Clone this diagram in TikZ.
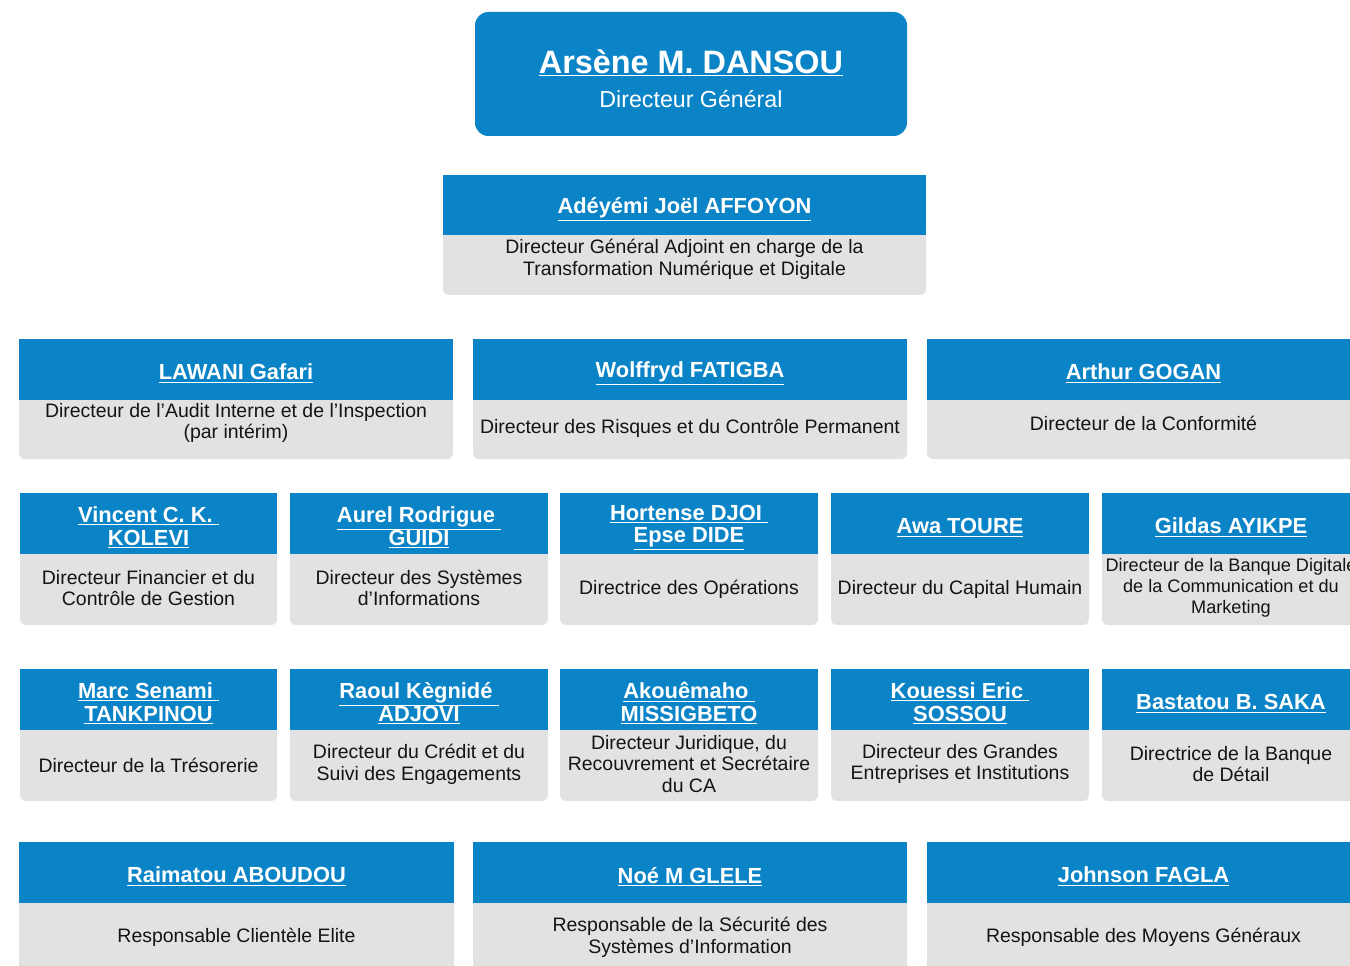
\documentclass[tikz,border=0pt]{standalone}
\usepackage{fontspec}
\setmainfont{Liberation Sans}
\definecolor{cardblue}{RGB}{10,132,198}
\definecolor{cardgray}{RGB}{226,226,226}
\definecolor{desctext}{RGB}{20,20,20}
\tikzset{
  nametext/.style={text=white, font=\bfseries\fontsize{16.4}{17}\selectfont, align=center, inner sep=0pt},
  roletext/.style={text=desctext, font=\fontsize{14.6}{16.3}\selectfont, align=center, inner sep=0pt},
  bluepart/.style={fill=cardblue},
  graypart/.style={fill=cardgray, rounded corners=4.5pt},
}
% id, xl, xr, ytop, ysplit, ybot, name, role, role y
\newcommand\orgcard[9]{%
  \fill[graypart] (#2,#5-10) rectangle (#3,#6);
  \fill[bluepart] (#2,#4) rectangle (#3,#5);
  \node[nametext] (#1-name) at ({(#2+#3)/2},{(#4+#5)/2+4}) {#7};
  \node[roletext] (#1-role) at ({(#2+#3)/2},#9) {#8};
}
\begin{document}
\begin{tikzpicture}[x=0.75pt,y=-0.75pt]
\clip (0,0) rectangle (1350,966);
\fill[white] (0,0) rectangle (1350,966);
% Director general
\fill[cardblue, rounded corners=10pt] (475,12) rectangle (907,136);
\node[text=white, font=\bfseries\fontsize{24.3}{28}\selectfont, inner sep=0pt] (dg-name) at (691,63) {\underline{Arsène M. DANSOU}};
\node[text=white, font=\fontsize{17.4}{20}\selectfont, inner sep=0pt] (dg-role) at (691,99) {Directeur Général};
% Deputy
\orgcard{dga}{443}{926}{175}{235}{295}{\underline{Adéyémi Joël AFFOYON}\rule[-3pt]{0pt}{1pt}}{Directeur Général Adjoint en charge de la\\Transformation Numérique et Digitale}{259}
% Row 3
\orgcard{lawani}{19}{453}{339}{400}{459}{\underline{LAWANI Gafari}}{Directeur de l’Audit Interne et de l’Inspection\\(par intérim)}{423}
\orgcard{fatigba}{473}{907}{339}{400}{459}{\underline{Wolffryd FATIGBA}}{Directeur des Risques et du Contrôle Permanent}{428}
\orgcard{gogan}{927}{1360}{339}{400}{459}{\underline{Arthur GOGAN}}{Directeur de la Conformité}{423}
% Row 4
\orgcard{kolevi}{20}{277}{493}{554}{625}{\underline{Vincent C. K.\ }\\\underline{KOLEVI}}{Directeur Financier et du\\Contrôle de Gestion}{588}
\orgcard{guidi}{290}{548}{493}{554}{625}{\underline{Aurel Rodrigue\ }\\\underline{GUIDI}}{Directeur des Systèmes\\d’Informations}{588}
\orgcard{dide}{560}{818}{493}{554}{625}{\underline{Hortense DJOI\ }\\\underline{Epse DIDE}}{Directrice des Opérations}{589}
\orgcard{toure}{831}{1089}{493}{554}{625}{\underline{Awa TOURE}}{Directeur du Capital Humain}{589}
\begin{scope}[roletext/.append style={font=\fontsize{13.6}{15.6}\selectfont}]
\orgcard{ayikpe}{1102}{1360}{493}{554}{625}{\underline{Gildas AYIKPE}}{Directeur de la Banque Digitale\\de la Communication et du\\Marketing}{588}
\end{scope}
% Row 5
\orgcard{tankpinou}{20}{277}{669}{730}{801}{\underline{Marc Senami\ }\\\underline{TANKPINOU}}{Directeur de la Trésorerie}{765}
\orgcard{adjovi}{290}{548}{669}{730}{801}{\underline{Raoul Kègnidé\ }\\\underline{ADJOVI}}{Directeur du Crédit et du\\Suivi des Engagements}{764}
\orgcard{missigbeto}{560}{818}{669}{730}{801}{\underline{Akouêmaho\ }\\\underline{MISSIGBETO}}{Directeur Juridique, du\\Recouvrement et Secrétaire\\du CA}{764}
\orgcard{sossou}{831}{1089}{669}{730}{801}{\underline{Kouessi Eric\ }\\\underline{SOSSOU}}{Directeur des Grandes\\Entreprises et Institutions}{764}
\orgcard{saka}{1102}{1360}{669}{730}{801}{\underline{Bastatou B. SAKA}}{Directrice de la Banque\\de Détail}{764}
% Row 6
\orgcard{aboudou}{19}{454}{842}{903}{985}{\underline{Raimatou ABOUDOU}}{Responsable Clientèle Elite}{937}
\orgcard{glele}{473}{907}{842}{903}{985}{\underline{Noé M GLELE}}{Responsable de la Sécurité des\\Systèmes d’Information}{937}
\orgcard{fagla}{927}{1360}{842}{903}{985}{\underline{Johnson FAGLA}}{Responsable des Moyens Généraux}{937}
\end{tikzpicture}
\end{document}
